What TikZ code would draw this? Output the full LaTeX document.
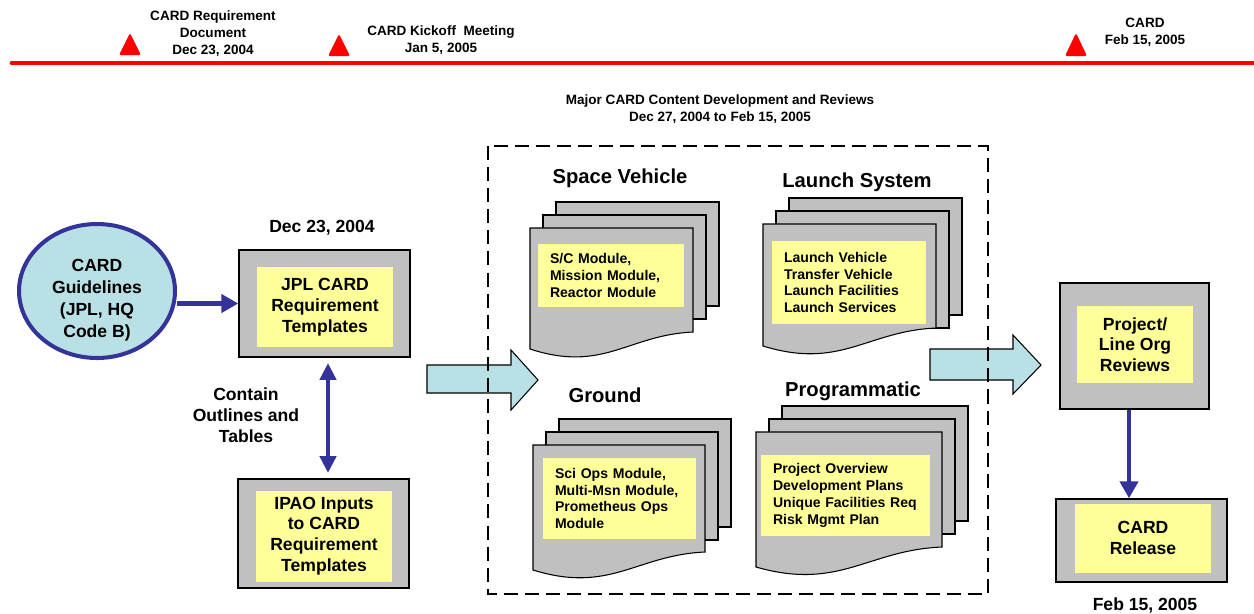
\documentclass[tikz,border=0pt]{standalone}
\usepackage{fontspec}
\setmainfont{Liberation Sans}
\usetikzlibrary{arrows.meta,shapes.geometric}
\definecolor{cardred}{RGB}{255,0,0}
\definecolor{pagegray}{RGB}{192,192,192}
\definecolor{noteyellow}{RGB}{255,255,153}
\definecolor{guideblue}{RGB}{185,224,228}
\definecolor{linkblue}{RGB}{51,51,153}
% #1,#2 top left of the front page, #3 width, #4 height of the pages behind,
% #5 right and #6 left height of the front page
\newcommand{\docstack}[6]{%
  \filldraw[page] ({#1+26},{#2-26}) rectangle ++(#3,#4);
  \filldraw[page] ({#1+13},{#2-13}) rectangle ++(#3,#4);
  \filldraw[page] (#1,#2) -- ({#1+#3},#2) -- ({#1+#3},{#2+#5})
    .. controls ({#1+0.6*#3},{#2+#5+3}) and ({#1+0.45*#3},{#2+#6+24}) .. (#1,{#2+#6}) -- cycle;}
\begin{document}
\begin{tikzpicture}[x=0.02cm,y=-0.02cm,
  every node/.style={align=center,inner sep=0pt},
  small/.style={font=\fontsize{7.7}{9.6}\selectfont\bfseries},
  body/.style={font=\fontsize{10}{11.8}\selectfont\bfseries},
  head/.style={font=\fontsize{11.5}{14}\selectfont\bfseries},
  timeline/.style={draw=cardred,line width=2.8pt,line cap=round},
  milestone/.style={fill=cardred,rounded corners=1.2pt},
  guide/.style={ellipse,draw=linkblue,line width=2.3pt,fill=guideblue,
    minimum width=3.12cm,minimum height=2.68cm},
  graybox/.style={draw,line width=0.8pt,fill=pagegray},
  notebox/.style={fill=noteyellow,body},
  listbox/.style={fill=noteyellow,align=left,inner xsep=0.24cm,
    font=\fontsize{8}{9.6}\selectfont\bfseries},
  page/.style={draw,line width=0.6pt,fill=pagegray},
  bigarrow/.style={draw,line width=0.6pt,fill=guideblue},
  phasebox/.style={draw,line width=1.6pt,dash pattern=on 8pt off 4pt},
  link/.style={draw=linkblue,line width=2.8pt,-{Triangle[length=0.34cm,width=0.36cm]}}]
\useasboundingbox (0,0) rectangle (1254,613);

\draw[timeline] (12,63) -- (1254,63);
\foreach \x/\t/\b in {130/33/55,339/34/56,1076/33/56}
  \fill[milestone] (\x-11,\b) -- (\x,\t) -- (\x+11,\b) -- cycle;
\node[small] (reqdoc) at (213,34) {CARD Requirement\\Document\\Dec 23, 2004};
\node[small] (kickoff) at (441,40.5) {CARD Kickoff\ \ Meeting\\Jan 5, 2005};
\node[small] (cardday) at (1145,32.5) {CARD\\Feb 15, 2005};
\node[small] (phase) at (720,109.5) {Major CARD Content Development and Reviews\\Dec 27, 2004 to Feb 15, 2005};

\node[guide] (guide) at (97,291) {};
\node[font=\fontsize{10}{12.4}\selectfont\bfseries] (guidetext) at (97,300) {CARD\\Guidelines\\(JPL, HQ\\Code B)};
\node[body] (jpldate) at (322,228) {Dec 23, 2004};
\node[graybox,minimum width=3.42cm,minimum height=2.14cm] (jpl) at (324.5,303.5) {};
\node[notebox,minimum width=2.72cm,minimum height=1.6cm] (jpltext) at (325,307) {JPL CARD\\Requirement\\Templates};
\node[body] (contain) at (246,415) {Contain\\Outlines and\\Tables};
\node[graybox,minimum width=3.42cm,minimum height=2.18cm] (ipao) at (323.5,533.5) {};
\node[notebox,minimum width=2.72cm,minimum height=1.82cm] (ipaotext) at (324,536) {IPAO Inputs\\to CARD\\Requirement\\Templates};

\node[head] (svtitle) at (620,178) {Space Vehicle};
\docstack{530}{228}{163}{104}{104}{121}
\node[listbox,text width=2.44cm,minimum height=1.26cm] (svlist) at (611,275.5)
  {S/C Module,\\Mission Module,\\Reactor Module};
\node[head] (lstitle) at (857,182) {Launch System};
\docstack{763}{224}{173}{117}{104}{122}
\node[listbox,text width=2.6cm,minimum height=1.66cm] (lslist) at (849,282.5)
  {Launch Vehicle\\Transfer Vehicle\\Launch Facilities\\Launch Services};
\node[head] (grtitle) at (605,395) {Ground};
\docstack{533}{445}{172}{108}{107}{125}
\node[listbox,text width=2.58cm,minimum height=1.62cm] (grlist) at (619.5,498.5)
  {Sci Ops Module,\\Multi-Msn Module,\\Prometheus Ops\\Module};
\node[head] (prtitle) at (853,391) {Programmatic};
\docstack{756}{432}{186}{115}{115}{135}
\node[listbox,text width=2.9cm,minimum height=1.62cm] (prlist) at (845.5,495.5)
  {Project Overview\\Development Plans\\Unique Facilities Req\\Risk Mgmt Plan};

\filldraw[bigarrow] (427,365) -- (511,365) -- (511,350) -- (538,380) -- (511,410) -- (511,393) -- (427,393) -- cycle;
\filldraw[bigarrow] (930,349) -- (1013,349) -- (1013,335) -- (1041,365) -- (1013,394) -- (1013,380) -- (930,380) -- cycle;
\draw[phasebox] (488,146) rectangle (988,594);

\node[graybox,minimum width=2.98cm,minimum height=2.52cm] (review) at (1134.5,346) {};
\node[notebox,minimum width=2.32cm,minimum height=1.54cm] (reviewtext) at (1135,344.5) {Project/\\Line Org\\Reviews};
\node[graybox,minimum width=3.42cm,minimum height=1.66cm] (release) at (1141.5,540.5) {};
\node[notebox,minimum width=2.72cm,minimum height=1.38cm] (releasetext) at (1143,538) {CARD\\Release};
\node[body] (releasedate) at (1145,605) {Feb 15, 2005};

\draw[link] (guide.east |- jpl.west) -- (jpl.west);
\draw[link,{Triangle[length=0.34cm,width=0.32cm]}-{Triangle[length=0.34cm,width=0.32cm]},shorten <=3pt,shorten >=3pt]
  ([xshift=0.07cm]jpl.south) -- ([xshift=0.07cm]jpl.south |- ipao.north);
\draw[link] ([xshift=-0.11cm]review.south) -- ([xshift=-0.11cm]review.south |- release.north);
\end{tikzpicture}
\end{document}
